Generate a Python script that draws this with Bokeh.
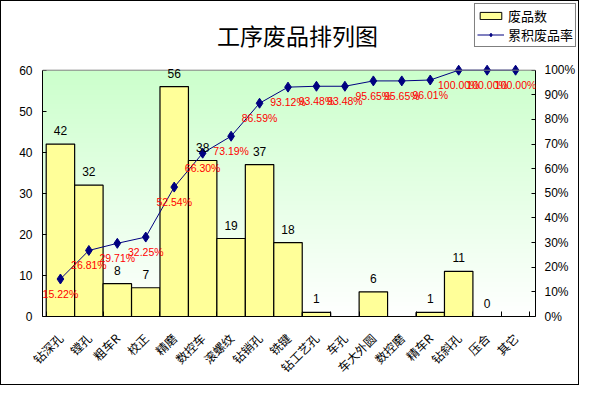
import numpy as np
from math import pi
from bokeh.plotting import figure
from bokeh.layouts import column
from bokeh.models import (ColumnDataSource, Range1d, LinearAxis, FixedTicker,
                          PrintfTickFormatter, Legend, LegendItem, LabelSet, Label, Span)
from bokeh.core.properties import value
from bokeh.embed import file_html
from bokeh.resources import INLINE

# ---------------- data ----------------
chart_title = "工序废品排列图"
processes = ["钻深孔", "镗孔", "粗车R", "校正", "精磨", "数控车", "滚螺纹", "钻销孔",
             "铣键", "钻工艺孔", "车孔", "车大外圆", "数控磨", "精车R", "钻斜孔", "压合", "其它"]
scrap_counts = [42, 32, 8, 7, 56, 38, 19, 37, 18, 1, None, 6, None, 1, 11, 0, None]
cum_pct = [15.22, 26.81, 29.71, 32.25, 52.54, 66.30, 73.19, 86.59, 93.12, 93.48,
           93.48, 95.65, 95.65, 96.01, 100.00, 100.00, 100.00]
count_ticks = [0, 10, 20, 30, 40, 50, 60]
pct_ticks = [0, 10, 20, 30, 40, 50, 60, 70, 80, 90, 100]
series_names = ["废品数", "累积废品率"]

CJK = "Noto Sans CJK SC"
LAT = "Liberation Sans"
BAR_FILL = "#ffff99"
LINE_COL = "#000080"

W = 577
HEAD_H = 60
MAIN_H = 323
TOP_PAD_PX = 9
FRAME_H = MAIN_H - 59
X_PAD_L, X_PAD_R = 0.13, 0.2   # small room so edge labels are not clipped
n = len(processes)
centers = [i + 0.5 for i in range(n)]
bounds_x = [float(i) for i in range(n + 1)]

cmax, pmax = count_ticks[-1], pct_ticks[-1]
c_end = cmax * FRAME_H / (FRAME_H - TOP_PAD_PX)
p_end = pmax * FRAME_H / (FRAME_H - TOP_PAD_PX)

bar_x = [c for c, v in zip(centers, scrap_counts) if v is not None]
bar_v = [v for v in scrap_counts if v is not None]
bar_src = ColumnDataSource(dict(x=bar_x, top=bar_v, txt=[str(v) for v in bar_v]))
pct_src = ColumnDataSource(dict(x=centers, pct=cum_pct,
                                txt=["%.2f%%" % v for v in cum_pct]))

# ---------------- header (title + legend) ----------------
head = figure(width=W, height=HEAD_H, x_range=Range1d(0, W), y_range=Range1d(0, HEAD_H),
              output_backend="svg", toolbar_location=None,
              x_axis_type=None, y_axis_type=None,
              min_border=0, min_border_left=0, min_border_right=0,
              min_border_top=0, min_border_bottom=0)
try:
    head.frame_align = False
except Exception:
    pass
head.outline_line_color = None
head.xgrid.visible = False
head.ygrid.visible = False
head.background_fill_color = "white"
head.border_fill_color = "white"

head.add_layout(Label(x=296, y=HEAD_H - 33, text=chart_title, text_align="center",
                      text_baseline="middle", text_font=CJK, text_font_size="23px",
                      text_color="black"))

lg_bar = head.vbar(x=[-100], top=[-100], width=1, fill_color=BAR_FILL, line_color="black",
                   line_width=1)
lg_line = head.line(x=[-100, -90], y=[-100, -100], line_color=LINE_COL, line_width=1)
lg_pts = head.scatter(x=[-100], y=[-100], marker="diamond", size=10,
                      fill_color=LINE_COL, line_color=LINE_COL)

legend = Legend(items=[LegendItem(label=series_names[0], renderers=[lg_bar]),
                       LegendItem(label=series_names[1], renderers=[lg_line, lg_pts])],
                location="top_right", orientation="vertical",
                border_line_color="black", border_line_width=1,
                background_fill_color="white", background_fill_alpha=1,
                padding=2, spacing=0, margin=2, label_height=15,
                glyph_width=27, glyph_height=9, label_standoff=4,
                label_text_font=CJK, label_text_font_size="13px",
                label_text_color="black")
head.add_layout(legend)

# ---------------- main chart ----------------
x_start, x_end = -X_PAD_L, n + X_PAD_R
p = figure(x_range=Range1d(x_start, x_end), y_range=Range1d(0, c_end),
           width=W, height=MAIN_H, output_backend="svg", toolbar_location=None,
           min_border_left=41, min_border_right=42, min_border_top=0, min_border_bottom=59)
try:
    p.frame_align = False
except Exception:
    pass
p.extra_y_ranges = {"pct": Range1d(0, p_end)}
p.background_fill_color = "white"
p.border_fill_color = "white"
p.outline_line_color = None
p.xgrid.visible = False
p.ygrid.visible = False

# gradient background (style only)
N = 256
img = np.empty((N, 1), dtype=np.uint32)
view = img.view(dtype=np.uint8).reshape((N, 1, 4))
t = np.linspace(0, 1, N)  # 0 bottom -> 1 top
view[:, 0, 0] = (255 - t * (255 - 0xcc)).astype(np.uint8)
view[:, 0, 1] = 255
view[:, 0, 2] = (255 - t * (255 - 0xcc)).astype(np.uint8)
view[:, 0, 3] = 255
p.image_rgba(image=[img], x=x_start, y=0, dw=x_end - x_start, dh=cmax)
p.add_layout(Span(location=cmax, dimension="width", line_color="#808080", line_width=1))

bars = p.vbar(x="x", top="top", width=1.0, source=bar_src,
              fill_color=BAR_FILL, line_color="black", line_width=1.2)
line = p.line(x="x", y="pct", source=pct_src, y_range_name="pct",
              line_color=LINE_COL, line_width=1)
pts = p.scatter(x="x", y="pct", source=pct_src, y_range_name="pct",
                marker="diamond", size=10, fill_color=LINE_COL, line_color=LINE_COL)

p.add_layout(LabelSet(x="x", y="top", text="txt", source=bar_src,
                      text_align="center", text_baseline="alphabetic", y_offset=9,
                      text_font=value(LAT), text_font_size="12px", text_color="black"))
p.add_layout(LabelSet(x="x", y="pct", text="txt", source=pct_src, y_range_name="pct",
                      text_align="center", text_baseline="alphabetic", y_offset=-19,
                      text_font=value(LAT), text_font_size="10.5px", text_color="red"))

# axes
ya = p.yaxis[0]
ya.ticker = FixedTicker(ticks=count_ticks)
ya.bounds = (0, cmax)
ya.axis_line_color = "black"
ya.major_tick_in = 4
ya.major_tick_out = 0
ya.minor_tick_line_color = None
ya.major_label_standoff = 10
ya.major_label_text_font = LAT
ya.major_label_text_font_size = "12px"
ya.major_label_text_color = "black"

ra = LinearAxis(y_range_name="pct", ticker=FixedTicker(ticks=pct_ticks),
                formatter=PrintfTickFormatter(format="%d%%"))
ra.bounds = (0, pmax)
ra.axis_line_color = "black"
ra.major_tick_in = 4
ra.major_tick_out = 0
ra.minor_tick_line_color = None
ra.major_label_standoff = 9
ra.major_label_text_font = LAT
ra.major_label_text_font_size = "12px"
ra.major_label_text_color = "black"
p.add_layout(ra, "right")

xa = p.xaxis[0]
xa.ticker = FixedTicker(ticks=centers, minor_ticks=bounds_x)
xa.major_label_overrides = {c: name for c, name in zip(centers, processes)}
xa.axis_line_color = "black"
xa.major_tick_line_color = None
xa.minor_tick_line_color = "black"
xa.minor_tick_in = 5
xa.minor_tick_out = 0
xa.major_label_orientation = pi / 4
xa.major_label_standoff = 13
xa.major_label_text_font = CJK
xa.major_label_text_font_size = "12px"
xa.major_label_text_color = "black"

layout = column(head, p, spacing=0)
layout.styles = {"border": "1px solid black"}

open("out.html", "w").write(file_html(layout, INLINE))
